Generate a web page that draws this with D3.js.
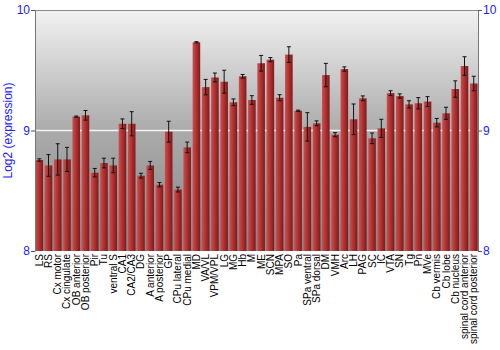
<!DOCTYPE html>
<html><head><meta charset="utf-8">
<script src="https://cdn.jsdelivr.net/npm/d3@7"></script>
<style>body{margin:0;background:#fff}svg{display:block}</style>
</head><body>
<script>
const categories = ["LS","RS","Cx motor","Cx cingulate","OB anterior","OB posterior","Pir","Tu","ventral S","CA1","CA2/CA3","DG","A anterior","A posterior","GP","CPu lateral","CPu medial","MD","VA/VL","VPM/VPL","LG","MG","Hb","M","ME","SCN","MPA","SO","Pa","SPa ventral","SPa dorsal","DM","VMH","Arc","LH","PAG","SC","IC","VTA","SN","Tg","Pn","MVe","Cb vermis","Cb lobe","Cb nucleus","spinal cord anterior","spinal cord posterior"];
const values = [8.755,8.71,8.76,8.76,9.115,9.126,8.65,8.73,8.71,9.056,9.056,8.625,8.71,8.55,8.99,8.51,8.86,9.732,9.36,9.44,9.405,9.234,9.45,9.253,9.558,9.588,9.272,9.63,9.164,9.03,9.06,9.46,8.965,9.51,9.093,9.267,8.935,9.018,9.31,9.286,9.217,9.226,9.24,9.065,9.143,9.344,9.535,9.39];
const errors = [0.01,0.09,0.13,0.1,0.005,0.04,0.035,0.04,0.06,0.04,0.1,0.02,0.033,0.018,0.087,0.02,0.044,0.005,0.064,0.037,0.095,0.028,0.015,0.036,0.065,0.017,0.025,0.065,0.005,0.118,0.02,0.097,0.017,0.018,0.127,0.02,0.044,0.075,0.02,0.018,0.03,0.047,0.041,0.035,0.05,0.068,0.077,0.06];
const yTicks = [8,9,10];

const W=500,H=350,m={l:35,r:22,t:10,b:99};
const svg=d3.select("body").append("svg").attr("width",W).attr("height",H);
const defs=svg.append("defs");
const bg=defs.append("linearGradient").attr("id","bg").attr("x1",0).attr("y1",0).attr("x2",0).attr("y2",1);
bg.append("stop").attr("offset","0").attr("stop-color","#f2f2f2");
bg.append("stop").attr("offset","0.5").attr("stop-color","#ababab");
bg.append("stop").attr("offset","1").attr("stop-color","#858585");
const bg2=defs.append("linearGradient").attr("id","bar").attr("x1",0).attr("y1",0).attr("x2",1).attr("y2",0);
bg2.append("stop").attr("offset","0").attr("stop-color","#c85050");
bg2.append("stop").attr("offset","0.4").attr("stop-color","#b83434");
bg2.append("stop").attr("offset","1").attr("stop-color","#7e1a1a");

const x=d3.scaleBand().domain(categories).range([m.l,W-m.r]).paddingInner(0.18).paddingOuter(0.05);
const y=d3.scaleLinear().domain([8,10]).range([H-m.b,m.t]);

svg.append("rect").attr("x",m.l).attr("y",m.t).attr("width",W-m.l-m.r).attr("height",H-m.t-m.b).attr("fill","url(#bg)");
svg.append("line").attr("x1",m.l).attr("x2",W-m.r).attr("y1",y(9)).attr("y2",y(9)).attr("stroke","#f4f4f4").attr("stroke-width",1.5);
svg.append("line").attr("x1",m.l).attr("x2",W-m.r).attr("y1",m.t+0.5).attr("y2",m.t+0.5).attr("stroke","#888");

const g=svg.append("g");
g.selectAll("rect.b").data(categories).join("rect").attr("class","b")
 .attr("x",d=>x(d)).attr("width",x.bandwidth())
 .attr("y",(d,i)=>y(values[i])).attr("height",(d,i)=>y(8)-y(values[i]))
 .attr("fill","url(#bar)");
const eb=g.selectAll("g.e").data(categories).join("g").attr("class","e")
 .attr("stroke","#111").attr("stroke-width",1);
eb.append("line").attr("x1",d=>x(d)+x.bandwidth()/2).attr("x2",d=>x(d)+x.bandwidth()/2)
 .attr("y1",(d,i)=>y(values[i]+errors[i])).attr("y2",(d,i)=>y(values[i]-errors[i]));
eb.append("line").attr("x1",d=>x(d)+x.bandwidth()/2-2).attr("x2",d=>x(d)+x.bandwidth()/2+2)
 .attr("y1",(d,i)=>y(values[i]+errors[i])).attr("y2",(d,i)=>y(values[i]+errors[i]));
eb.append("line").attr("x1",d=>x(d)+x.bandwidth()/2-2).attr("x2",d=>x(d)+x.bandwidth()/2+2)
 .attr("y1",(d,i)=>y(values[i]-errors[i])).attr("y2",(d,i)=>y(values[i]-errors[i]));

const la=svg.append("g").attr("transform",`translate(${m.l},0)`).call(d3.axisLeft(y).tickValues(yTicks).tickFormat(d3.format("d")).tickSize(4).tickSizeOuter(0));
const ra=svg.append("g").attr("transform",`translate(${W-m.r},0)`).call(d3.axisRight(y).tickValues(yTicks).tickFormat(d3.format("d")).tickSize(4).tickSizeOuter(0));
[la,ra].forEach(a=>{a.select(".domain").attr("stroke","#777");a.selectAll(".tick line").attr("stroke","#555");
 a.selectAll("text").attr("fill","#1a1aff").attr("font-family","Liberation Sans, Arial, sans-serif").attr("font-size",12);});
la.selectAll("text").attr("x",-5);
ra.selectAll("text").attr("x",5);

svg.append("text").attr("transform",`translate(12,${(m.t+H-m.b)/2}) rotate(-90)`).attr("text-anchor","middle")
 .attr("fill","#1a1aff").attr("font-family","Liberation Sans, Arial, sans-serif").attr("font-size",12).text("Log2 (expression)");

svg.append("g").selectAll("text").data(categories).join("text")
 .attr("transform",d=>`translate(${x(d)+x.bandwidth()/2+3.5},${H-m.b+3}) rotate(-90)`)
 .attr("text-anchor","end").attr("font-family","Liberation Sans, Arial, sans-serif").attr("font-size",10).attr("fill","#000")
 .text(d=>d);
</script>
</body></html>
